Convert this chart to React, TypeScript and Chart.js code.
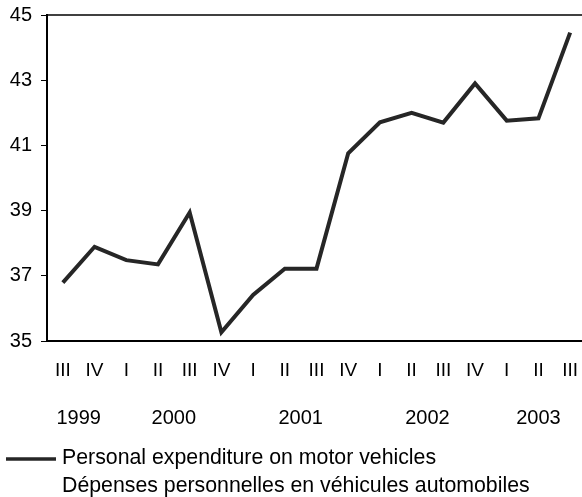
import React, { useEffect, useRef } from "react";
import { Chart, registerables } from "chart.js";

Chart.register(...registerables);

const quarters = ["III", "IV", "I", "II", "III", "IV", "I", "II", "III", "IV", "I", "II", "III", "IV", "I", "II", "III"];
const expenditure = [36.79, 37.89, 37.48, 37.35, 38.94, 35.27, 36.41, 37.22, 37.22, 40.76, 41.71, 42.0, 41.7, 42.9, 41.76, 41.83, 44.46];
const years = ["1999", "2000", "2001", "2002", "2003"];
const yearAt = [0.5, 3.5, 7.5, 11.5, 15];
const legendLines = ["Personal expenditure on motor vehicles", "Dépenses personnelles en véhicules automobiles"];

const FONT = "'Liberation Sans', Arial, sans-serif";
const LINE_COLOR = "#262626";

const extras = {
  id: "extras",
  afterDraw(chart: any) {
    const ctx = chart.ctx;
    const area = chart.chartArea;
    const x = chart.scales.x;
    ctx.save();
    // top border line
    ctx.strokeStyle = "#000";
    ctx.lineWidth = 1.5;
    ctx.beginPath();
    ctx.moveTo(area.left, area.top);
    ctx.lineTo(area.right, area.top);
    ctx.stroke();
    // year labels
    ctx.fillStyle = "#000";
    ctx.font = `20px ${FONT}`;
    ctx.textAlign = "center";
    ctx.textBaseline = "alphabetic";
    years.forEach((y, i) => {
      const p = yearAt[i];
      const lo = Math.floor(p);
      const hi = Math.ceil(p);
      const px = x.getPixelForTick(lo) + (x.getPixelForTick(hi) - x.getPixelForTick(lo)) * (p - lo);
      ctx.fillText(y, px, 423.5);
    });
    // legend
    ctx.strokeStyle = LINE_COLOR;
    ctx.lineWidth = 3.5;
    ctx.beginPath();
    ctx.moveTo(6, 459);
    ctx.lineTo(56, 459);
    ctx.stroke();
    ctx.font = `21.3px ${FONT}`;
    ctx.textAlign = "left";
    ctx.fillText(legendLines[0], 62, 463.5);
    ctx.fillText(legendLines[1], 62, 492);
    ctx.restore();
  },
};

export default function App() {
  const ref = useRef<HTMLCanvasElement | null>(null);
  useEffect(() => {
    document.body.style.margin = "0";
    document.body.style.overflow = "hidden";
    const canvas = ref.current!;
    const chart = new Chart(canvas, {
      type: "line",
      data: {
        labels: quarters,
        datasets: [
          {
            label: legendLines[0],
            data: expenditure,
            borderColor: LINE_COLOR,
            borderWidth: 4,
            pointRadius: 0,
            tension: 0,
            borderJoinStyle: "miter",
            fill: false,
          },
        ],
      },
      options: {
        animation: false,
        responsive: false,
        devicePixelRatio: 1,
        layout: { padding: { top: 15, left: 0, right: 0, bottom: 0 } },
        plugins: { legend: { display: false }, tooltip: { enabled: false } },
        scales: {
          x: {
            type: "category",
            offset: true,
            grid: { display: false, drawTicks: false },
            border: { display: true, color: "#000", width: 2 },
            ticks: {
              color: "#000",
              font: { family: FONT, size: 19 },
              padding: 18,
              autoSkip: false,
              maxRotation: 0,
            },
            afterFit(scale: any) {
              scale.height = 497 - 341;
              scale.paddingLeft = 0;
              scale.paddingRight = 0;
            },
          },
          y: {
            min: 35,
            max: 45,
            grid: { display: true, drawOnChartArea: false, drawTicks: true, tickLength: 6, color: "#000", lineWidth: 1 },
            border: { display: true, color: "#000", width: 2 },
            ticks: {
              stepSize: 2,
              color: "#000",
              font: { family: FONT, size: 20 },
              padding: 9,
            },
            afterFit(scale: any) {
              scale.width = 47;
              scale.paddingTop = 0;
              scale.paddingBottom = 0;
            },
          },
        },
      },
      plugins: [extras],
    });
    return () => chart.destroy();
  }, []);
  return (
    <div style={{ width: 582, height: 497, overflow: "hidden", position: "relative" }}>
      <canvas ref={ref} width={586} height={497} style={{ display: "block" }} />
    </div>
  );
}
